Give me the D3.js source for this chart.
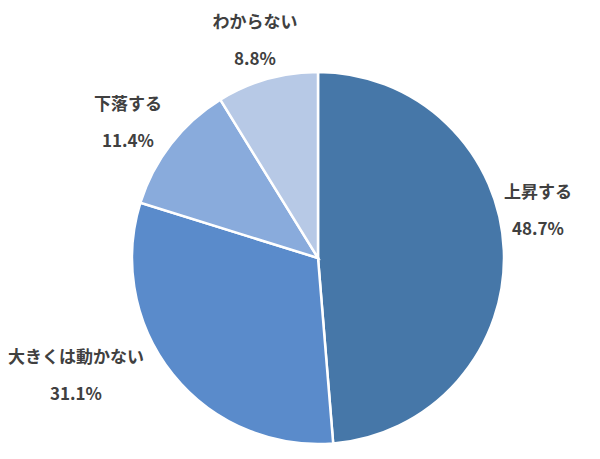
<!DOCTYPE html>
<html><head><meta charset="utf-8">
<script src="https://cdn.jsdelivr.net/npm/d3@7"></script>
<style>body{margin:0;background:#fff}</style>
</head><body>
<svg id="chart" width="600" height="459"></svg>
<script>
var categories = ["上昇する", "大きくは動かない", "下落する", "わからない"];
var values = [48.7, 31.1, 11.4, 8.8];
var colors = ["#4677a8", "#5a8bcb", "#89abdc", "#b7c9e6"];
var labelPos = [[538, 210], [76, 375], [128, 122], [255, 40]];

var svg = d3.select("#chart");
var g = svg.append("g").attr("transform", "translate(318,258)");
var pie = d3.pie().sort(null).value(function (d) { return d; });
var arc = d3.arc().innerRadius(0).outerRadius(186);

g.selectAll("path")
  .data(pie(values))
  .enter()
  .append("path")
  .attr("d", arc)
  .attr("fill", function (d, i) { return colors[i]; })
  .attr("stroke", "#fff")
  .attr("stroke-width", 2.5);

var labels = svg.selectAll("g.lbl")
  .data(categories)
  .enter()
  .append("g")
  .attr("class", "lbl")
  .attr("transform", function (d, i) { return "translate(" + labelPos[i][0] + "," + labelPos[i][1] + ")"; })
  .attr("font-family", "'Noto Sans CJK JP', sans-serif")
  .attr("font-weight", "bold")
  .attr("font-size", 17)
  .attr("fill", "#404040")
  .attr("text-anchor", "middle");

labels.append("text").attr("y", -12).text(function (d) { return d; });
labels.append("text").attr("y", 25).text(function (d, i) { return values[i].toFixed(1) + "%"; });
</script>
</body></html>
